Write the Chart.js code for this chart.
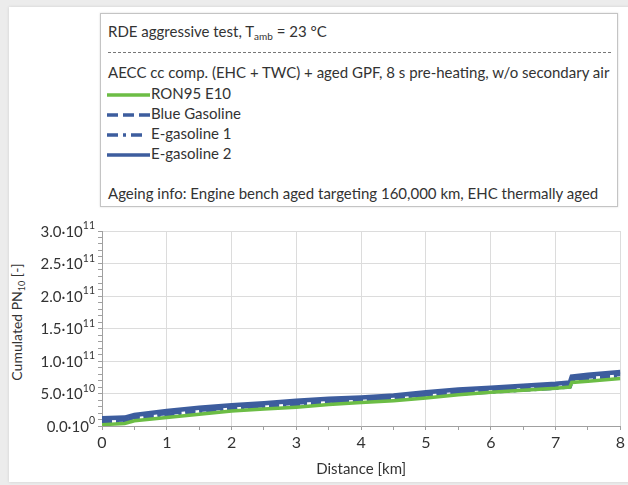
<!DOCTYPE html>
<html>
<head>
<meta charset="utf-8">
<script src="https://cdn.jsdelivr.net/npm/chart.js@4"></script>
<style>
  html, body { margin: 0; padding: 0; }
  body { width: 628px; height: 485px; background: #ececec; position: relative; overflow: hidden;
         font-family: Lato, "Open Sans", sans-serif; color: #333; }
  #panel { position: absolute; left: 9px; top: 7px; width: 640px; height: 475px; background: #fff;
           box-shadow: 0 0 3px rgba(0,0,0,0.12); }
  #legendBox { position: absolute; left: 100px; top: 13px; width: 516px; height: 192px;
               border: 1px solid #c4c4c4; background: #fff; box-shadow: 0 0 2px rgba(0,0,0,0.15);
               font-size: 15px; line-height: 20px; }
  #legendBox .row { position: absolute; left: 7px; white-space: nowrap; }
  #legendBox sub { font-size: 10px; vertical-align: -3px; line-height: 0; }
  #sep { position: absolute; left: 7px; top: 38px; width: 503px; border-top: 1px dashed #777; }
  .entry svg { vertical-align: middle; margin-right: 1px; }
  #ytitle { position: absolute; left: 16px; top: 322px; transform: translate(-50%, -50%) rotate(-90deg);
            white-space: nowrap; font-size: 14px; }
  #ytitle sub { font-size: 9px; vertical-align: -3px; line-height: 0; }
  #c { position: absolute; left: 9px; top: 215px; }
</style>
</head>
<body>
<div id="panel"></div>
<div id="legendBox">
  <div class="row" style="top:7px">RDE aggressive test, T<sub>amb</sub> = 23 °C</div>
  <div id="sep"></div>
  <div class="row" style="top:48px">AECC cc comp. (EHC + TWC) + aged GPF, 8 s pre-heating, w/o secondary air</div>
  <div id="entries"></div>
  <div class="row" style="top:169px">Ageing info: Engine bench aged targeting 160,000 km, EHC thermally aged</div>
</div>
<div id="ytitle">Cumulated PN<sub>10</sub> [-]</div>
<canvas id="c" width="619" height="267"></canvas>
<script>
// distance in km
const distance = [0, 0.35, 0.5, 1, 1.5, 2, 2.5, 3, 3.5, 4, 4.5, 5, 5.5, 6, 6.5, 7, 7.22, 7.25, 7.5, 8];
// cumulated PN10, particles
const ron95 =        [0.2e10, 0.4e10, 0.8e10, 1.3e10, 1.8e10, 2.3e10, 2.6e10, 2.9e10, 3.3e10, 3.6e10, 3.9e10, 4.3e10, 4.8e10, 5.2e10, 5.5e10, 5.8e10, 6.0e10, 6.7e10, 6.9e10, 7.3e10];
const blueGasoline = [0.9e10, 1.0e10, 1.4e10, 2.0e10, 2.5e10, 2.9e10, 3.2e10, 3.6e10, 3.9e10, 4.1e10, 4.4e10, 4.9e10, 5.3e10, 5.6e10, 5.9e10, 6.2e10, 6.4e10, 7.3e10, 7.6e10, 8.0e10];
const eGasoline1 =   [0.6e10, 0.7e10, 1.1e10, 1.7e10, 2.2e10, 2.6e10, 2.9e10, 3.3e10, 3.6e10, 3.8e10, 4.1e10, 4.6e10, 5.0e10, 5.3e10, 5.6e10, 5.9e10, 6.1e10, 7.0e10, 7.3e10, 7.7e10];
const eGasoline2 =   [1.2e10, 1.3e10, 1.7e10, 2.3e10, 2.8e10, 3.2e10, 3.5e10, 3.9e10, 4.2e10, 4.4e10, 4.7e10, 5.2e10, 5.6e10, 5.9e10, 6.2e10, 6.5e10, 6.7e10, 7.6e10, 7.9e10, 8.3e10];

const seriesNames = ['RON95 E10', 'Blue Gasoline', 'E-gasoline 1', 'E-gasoline 2'];
const seriesData = [ron95, blueGasoline, eGasoline1, eGasoline2];
const seriesColors = ['#6cbd45', '#3d5d9e', '#3d5d9e', '#3d5d9e'];
const seriesDash = [[], [10, 4], [10, 4, 3, 4], []];
const seriesWidth = [3.5, 4.5, 4.5, 4.5];
// legend sample strokes (dash, sample length)
const legendDash = ['', '11,5', '11,5,3,5', ''];
const legendLen = [44, 44, 36, 44];

const gridColor = '#dcdcdc';
const axisColor = '#a0a0a0';
const fontFamily = 'Lato, "Open Sans", sans-serif';

// legend built from the series
const entries = document.getElementById('entries');
seriesNames.forEach((name, i) => {
  const row = document.createElement('div');
  row.className = 'row entry';
  row.style.top = (69 + i * 20) + 'px';
  row.style.left = '5px';
  const dash = legendDash[i] ? ` stroke-dasharray="${legendDash[i]}"` : '';
  row.innerHTML = `<svg width="44" height="8"><line x1="1" y1="4" x2="${legendLen[i]}" y2="4" stroke="${seriesColors[i]}" stroke-width="3.5"${dash}/></svg>` + name;
  entries.appendChild(row);
});

const datasets = seriesNames.map((name, i) => ({
  label: name,
  data: distance.map((d, j) => ({ x: d, y: seriesData[i][j] })),
  borderColor: seriesColors[i],
  borderWidth: seriesWidth[i],
  borderDash: seriesDash[i],
  pointRadius: 0,
  tension: 0,
  fill: false
}));

// y tick labels like 3.0·10^11
const sciLabels = {
  id: 'sciLabels',
  afterDraw(chart) {
    const ctx = chart.ctx;
    const y = chart.scales.y;
    ctx.save();
    ctx.fillStyle = '#333';
    ctx.textBaseline = 'middle';
    y.ticks.forEach(t => {
      if (Math.round(t.value / 1e10) % 5 !== 0) return;
      const parts = t.value.toExponential(1).split('e');
      const mant = parts[0] + '·10';
      const exp = String(parseInt(parts[1], 10));
      const py = y.getPixelForValue(t.value);
      ctx.font = '15px ' + fontFamily;
      const w1 = ctx.measureText(mant).width;
      ctx.font = '10.5px ' + fontFamily;
      const w2 = ctx.measureText(exp).width;
      const right = chart.chartArea.left - 7;
      ctx.font = '15px ' + fontFamily;
      ctx.fillText(mant, right - w2 - w1, py + 1);
      ctx.font = '10.5px ' + fontFamily;
      ctx.fillText(exp, right - w2, py - 5);
    });
    ctx.restore();
  }
};

new Chart(document.getElementById('c').getContext('2d'), {
  type: 'line',
  data: { datasets: datasets },
  options: {
    responsive: false,
    animation: false,
    devicePixelRatio: 1,
    layout: { padding: { top: 16, right: 6, left: 0, bottom: 0 } },
    plugins: { legend: { display: false }, tooltip: { enabled: false } },
    scales: {
      x: {
        type: 'linear',
        min: 0,
        max: 8,
        afterFit: (s) => { s.height = 56; },
        border: { color: axisColor },
        grid: {
          color: (c) => Number.isInteger(c.tick.value) ? gridColor : 'transparent',
          tickColor: axisColor,
          tickLength: 4
        },
        ticks: {
          stepSize: 0.5,
          autoSkip: false,
          maxRotation: 0,
          padding: 3,
          color: '#333',
          font: { family: fontFamily, size: 16 },
          callback: (v) => Number.isInteger(v) ? String(v) : ''
        },
        title: {
          display: true,
          text: 'Distance [km]',
          color: '#333',
          padding: { top: 0, bottom: 4 },
          font: { family: fontFamily, size: 15 }
        }
      },
      y: {
        min: 0,
        max: 3e11,
        afterFit: (s) => { s.width = 93; },
        border: { color: axisColor },
        grid: {
          color: (c) => Math.round(c.tick.value / 1e10) % 5 === 0 ? gridColor : 'transparent',
          tickColor: axisColor,
          tickLength: 4
        },
        ticks: {
          stepSize: 1e10,
          autoSkip: false,
          callback: () => ''
        }
      }
    }
  },
  plugins: [sciLabels]
});
</script>
</body>
</html>
